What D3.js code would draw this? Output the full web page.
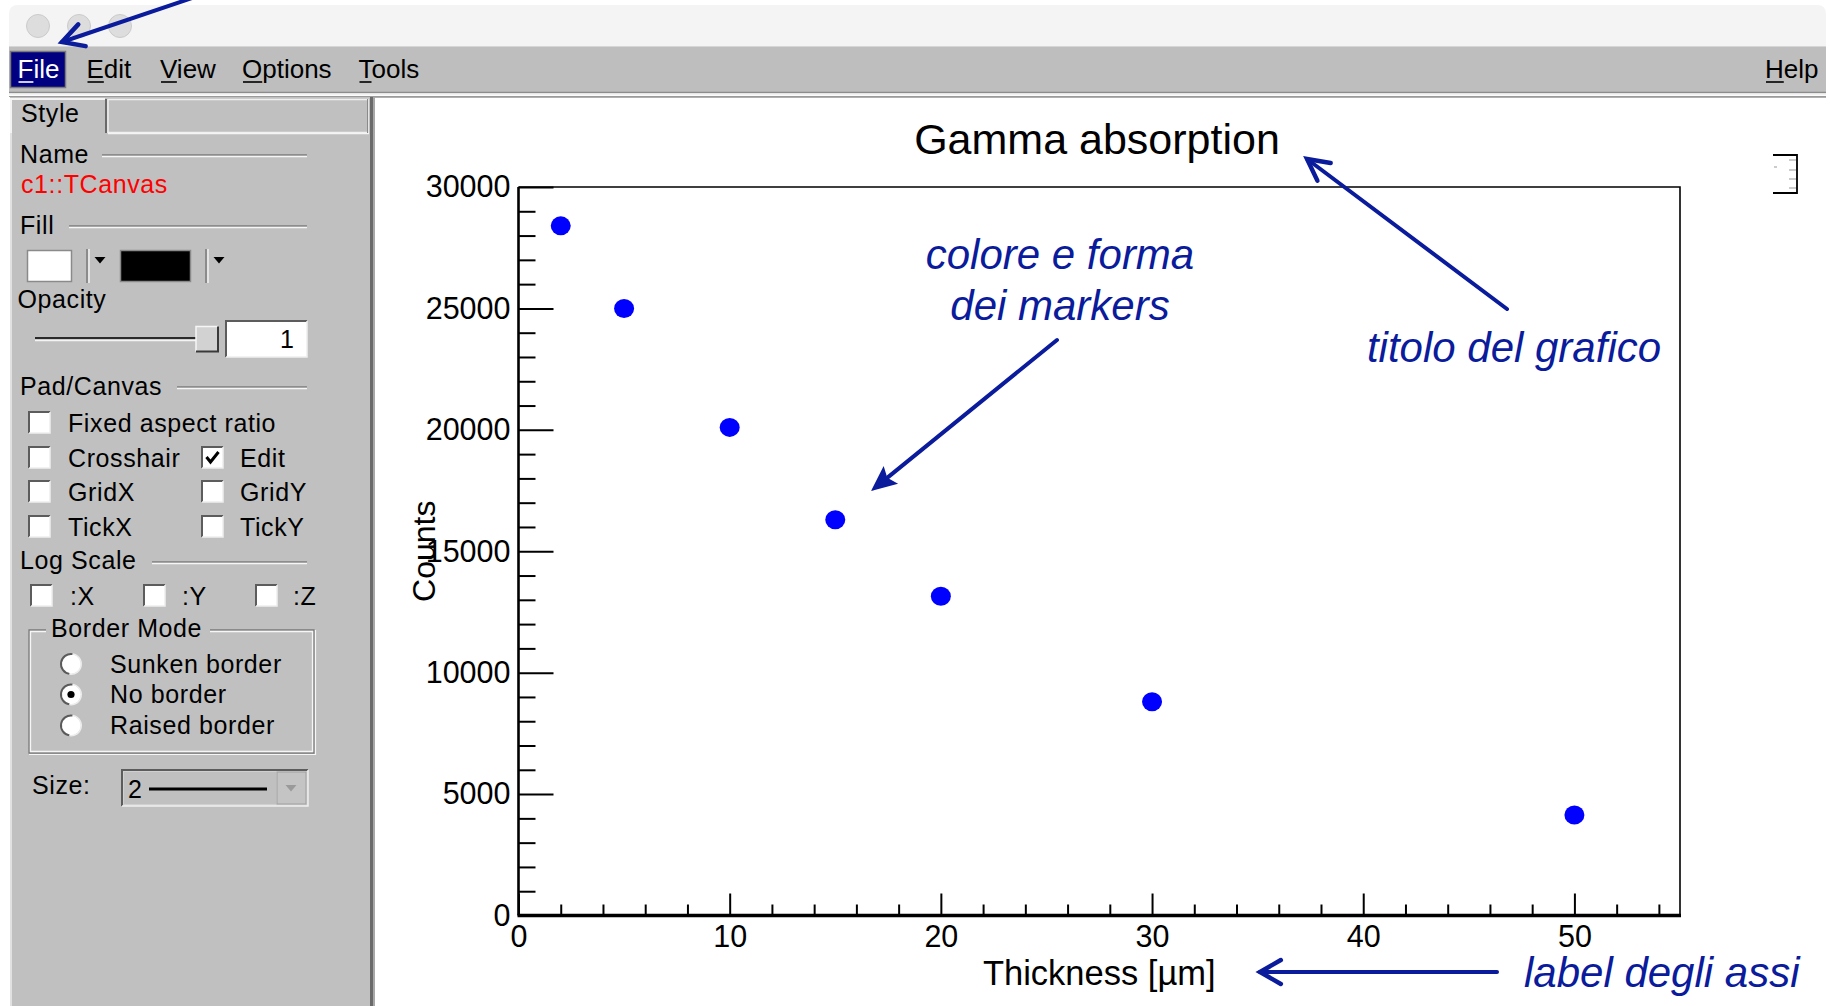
<!DOCTYPE html>
<html>
<head>
<meta charset="utf-8">
<script src="https://cdn.jsdelivr.net/npm/d3@7"></script>
<style>
  html, body { margin: 0; padding: 0; background: #ffffff; overflow: hidden; }
  svg text { font-family: "Liberation Sans", Arial, Helvetica, sans-serif; }
</style>
</head>
<body>
<svg id="win" width="1830" height="1006"></svg>
<script>
// ---- measurements: gamma counts vs absorber thickness ----
const thickness = [2, 5, 10, 15, 20, 30, 50];
const counts = [28400, 25000, 20100, 16300, 13150, 8800, 4140];

// ---- axes ----
const xDomain = [0, 55];
const yDomain = [0, 30000];
const xTickValues = [0, 10, 20, 30, 40, 50];
const yTickValues = [0, 5000, 10000, 15000, 20000, 25000, 30000];
const xMinorStep = 2;
const yMinorStep = 1000;

// ---- texts ----
const chartTitle = "Gamma absorption";
const xTitle = "Thickness [\u00B5m]";
const yTitle = "Counts";
const menuItems = ["File", "Edit", "View", "Options", "Tools"];
const helpItem = "Help";
const checkRows = [["Fixed aspect ratio", null], ["Crosshair", "Edit"], ["GridX", "GridY"], ["TickX", "TickY"]];
const checkedItems = ["Edit"];
const logItems = [":X", ":Y", ":Z"];
const borderModes = ["Sunken border", "No border", "Raised border"];
const selectedBorder = "No border";
const noteMarkers = ["colore e forma", "dei markers"];
const noteTitle = "titolo del grafico";
const noteAxis = "label degli assi";

const svg = d3.select("#win");
const NOTE = "#0a1b9c";

// ================= window chrome =================
svg.append("path")
  .attr("d", "M9,47 V14 Q9,5 18,5 H1817 Q1826,5 1826,14 V47 Z")
  .attr("fill", "#f4f4f4");
svg.append("line").attr("x1", 9).attr("x2", 1826).attr("y1", 46.5).attr("y2", 46.5)
  .attr("stroke", "#d6d6d6").attr("stroke-width", 1);
[38, 79, 120].forEach(cx => {
  svg.append("circle").attr("cx", cx).attr("cy", 26).attr("r", 11.5)
    .attr("fill", "#dddddd").attr("stroke", "#cbcbcb").attr("stroke-width", 1);
});

// menu bar
svg.append("rect").attr("x", 9).attr("y", 47).attr("width", 1817).attr("height", 45)
  .attr("fill", "#bebebe");
svg.append("line").attr("x1", 9).attr("x2", 1826).attr("y1", 92.5).attr("y2", 92.5)
  .attr("stroke", "#8c8c8c").attr("stroke-width", 1.5);
svg.append("line").attr("x1", 9).attr("x2", 1826).attr("y1", 94.5).attr("y2", 94.5)
  .attr("stroke", "#f2f2f2").attr("stroke-width", 1.5);
svg.append("line").attr("x1", 9).attr("x2", 1826).attr("y1", 96.5).attr("y2", 96.5)
  .attr("stroke", "#9a9a9a").attr("stroke-width", 1.2);

const menuX = [17.5, 86.5, 160, 242, 358.5];
svg.append("rect").attr("x", 10.5).attr("y", 51.5).attr("width", 55).attr("height", 36)
  .attr("fill", "#000080").attr("stroke", "#7a7a7a").attr("stroke-width", 1.5);

function menuLabel(label, x, color) {
  const t = svg.append("text").attr("x", x).attr("y", 77.5)
    .attr("font-size", 26).attr("fill", color).text(label);
  const w = t.node().getSubStringLength(0, 1);
  svg.append("line").attr("x1", x + 1).attr("x2", x + w).attr("y1", 82).attr("y2", 82)
    .attr("stroke", color).attr("stroke-width", 1.6);
}
menuItems.forEach((m, i) => menuLabel(m, menuX[i], i === 0 ? "#ffffff" : "#000000"));
menuLabel(helpItem, 1765, "#000000");

// ================= editor side panel =================
const P = "#c0c0c0";
svg.append("rect").attr("x", 10).attr("y", 97).attr("width", 361).attr("height", 909).attr("fill", P);
svg.append("line").attr("x1", 11).attr("x2", 11).attr("y1", 133).attr("y2", 1006)
  .attr("stroke", "#ececec").attr("stroke-width", 1.5);
svg.append("rect").attr("x", 370).attr("y", 97).attr("width", 3).attr("height", 909).attr("fill", "#6a6a6a");
svg.append("rect").attr("x", 373).attr("y", 97).attr("width", 2).attr("height", 909).attr("fill", "#a8a8a8");

// tabs
svg.append("path").attr("d", "M11,133 V99 H105").attr("fill", "none")
  .attr("stroke", "#f4f4f4").attr("stroke-width", 2);
svg.append("line").attr("x1", 106).attr("x2", 106).attr("y1", 99).attr("y2", 133)
  .attr("stroke", "#6a6a6a").attr("stroke-width", 2);
svg.append("rect").attr("x", 108).attr("y", 99.5).attr("width", 260).attr("height", 33)
  .attr("fill", P).attr("stroke", "#f0f0f0").attr("stroke-width", 1.5);
svg.append("line").attr("x1", 108).attr("x2", 369).attr("y1", 133.5).attr("y2", 133.5)
  .attr("stroke", "#f4f4f4").attr("stroke-width", 1.5);
svg.append("line").attr("x1", 367.5).attr("x2", 367.5).attr("y1", 99).attr("y2", 133)
  .attr("stroke", "#8a8a8a").attr("stroke-width", 1);

function ptext(s, x, y, opts = {}) {
  return svg.append("text").attr("x", x).attr("y", y)
    .attr("font-size", opts.size || 25)
    .attr("letter-spacing", opts.ls != null ? opts.ls : 0.6)
    .attr("fill", opts.color || "#000")
    .attr("text-anchor", opts.anchor || "start")
    .text(s);
}
function etched(x1, x2, yy) {
  svg.append("line").attr("x1", x1).attr("x2", x2).attr("y1", yy).attr("y2", yy)
    .attr("stroke", "#7c7c7c").attr("stroke-width", 1.3);
  svg.append("line").attr("x1", x1).attr("x2", x2).attr("y1", yy + 1.5).attr("y2", yy + 1.5)
    .attr("stroke", "#f6f6f6").attr("stroke-width", 1.3);
}
function sunkenBox(x, y0, w, h, fill) {
  svg.append("rect").attr("x", x).attr("y", y0).attr("width", w).attr("height", h).attr("fill", fill);
  svg.append("path").attr("d", `M${x},${y0 + h} V${y0} H${x + w}`).attr("fill", "none")
    .attr("stroke", "#5c5c5c").attr("stroke-width", 2);
  svg.append("path").attr("d", `M${x + w},${y0} V${y0 + h} H${x}`).attr("fill", "none")
    .attr("stroke", "#eeeeee").attr("stroke-width", 1.5);
}
function checkbox(x, y0, checked) {
  sunkenBox(x, y0, 21, 21, "#ffffff");
  if (checked) {
    svg.append("path").attr("d", `M${x + 4.5},${y0 + 10} L${x + 8.5},${y0 + 15} L${x + 16.5},${y0 + 5}`)
      .attr("fill", "none").attr("stroke", "#000").attr("stroke-width", 3);
  }
}
function downArrow(cx, cy, color) {
  svg.append("path").attr("d", `M${cx - 5.5},${cy - 3} H${cx + 5.5} L${cx},${cy + 3.5} Z`).attr("fill", color);
}

ptext("Style", 21, 121.5, { size: 25 });

ptext("Name", 20, 163);
etched(102, 307, 155);
ptext("c1::TCanvas", 21, 193);
svg.selectAll("text").filter(function () { return this.textContent === "c1::TCanvas"; }).attr("fill", "#ff0000");

ptext("Fill", 20, 233.5);
etched(69, 307, 226);
// fill colour pickers
svg.append("rect").attr("x", 27.5).attr("y", 250.5).attr("width", 44).attr("height", 31)
  .attr("fill", "#ffffff").attr("stroke", "#8a8a8a").attr("stroke-width", 1.5);
svg.append("line").attr("x1", 87).attr("x2", 87).attr("y1", 249).attr("y2", 283).attr("stroke", "#7a7a7a").attr("stroke-width", 1.5);
svg.append("line").attr("x1", 89).attr("x2", 89).attr("y1", 249).attr("y2", 283).attr("stroke", "#f2f2f2").attr("stroke-width", 1.5);
downArrow(100, 260, "#000");
svg.append("rect").attr("x", 120.5).attr("y", 250.5).attr("width", 70).attr("height", 31)
  .attr("fill", "#000000").attr("stroke", "#8a8a8a").attr("stroke-width", 1.5);
svg.append("line").attr("x1", 206).attr("x2", 206).attr("y1", 249).attr("y2", 283).attr("stroke", "#7a7a7a").attr("stroke-width", 1.5);
svg.append("line").attr("x1", 208).attr("x2", 208).attr("y1", 249).attr("y2", 283).attr("stroke", "#f2f2f2").attr("stroke-width", 1.5);
downArrow(219, 260, "#000");

ptext("Opacity", 17.5, 308);
// opacity slider
svg.append("line").attr("x1", 35).attr("x2", 200).attr("y1", 338).attr("y2", 338).attr("stroke", "#2a2a2a").attr("stroke-width", 2);
svg.append("line").attr("x1", 35).attr("x2", 200).attr("y1", 340.5).attr("y2", 340.5).attr("stroke", "#f4f4f4").attr("stroke-width", 1.5);
svg.append("rect").attr("x", 196).attr("y", 326.5).attr("width", 22).attr("height", 25).attr("fill", "#d2d2d2");
svg.append("path").attr("d", "M196,351.5 V326.5 H218").attr("fill", "none").attr("stroke", "#f6f6f6").attr("stroke-width", 1.5);
svg.append("path").attr("d", "M218,326.5 V351.5 H196").attr("fill", "none").attr("stroke", "#3a3a3a").attr("stroke-width", 2);
sunkenBox(226, 321, 81, 36, "#ffffff");
ptext("1", 294, 348, { anchor: "end", ls: 0 });

ptext("Pad/Canvas", 20, 395);
etched(177, 307, 387);

const rowTop = [412, 447, 481, 516];
checkRows.forEach((r, i) => {
  checkbox(29, rowTop[i], checkedItems.includes(r[0]));
  ptext(r[0], 68, rowTop[i] + 20);
  if (r[1]) {
    checkbox(202, rowTop[i], checkedItems.includes(r[1]));
    ptext(r[1], 240, rowTop[i] + 20);
  }
});

ptext("Log Scale", 20, 569);
etched(152, 307, 562);
const logBoxX = [31, 144, 256];
const logTextX = [70, 182, 293];
logItems.forEach((s, i) => {
  checkbox(logBoxX[i], 585, false);
  ptext(s, logTextX[i], 605);
});

// border mode group
svg.append("path").attr("d", "M46,630 H29 V753 H314 V630 H210").attr("fill", "none")
  .attr("stroke", "#7a7a7a").attr("stroke-width", 1.3);
svg.append("path").attr("d", "M46,631.5 H30.5 V751.5 H312.5 V631.5 H210").attr("fill", "none")
  .attr("stroke", "#f6f6f6").attr("stroke-width", 1.3);
svg.append("path").attr("d", "M29,754.5 H315.5 V630").attr("fill", "none")
  .attr("stroke", "#f6f6f6").attr("stroke-width", 1.2);
ptext("Border Mode", 51, 636.5);
const radioY = [664, 694.5, 725.5];
borderModes.forEach((s, i) => {
  const cy = radioY[i];
  svg.append("circle").attr("cx", 71).attr("cy", cy).attr("r", 10).attr("fill", "#ffffff");
  svg.append("path").attr("d", d3.arc()({ innerRadius: 9, outerRadius: 11, startAngle: -Math.PI * 0.95, endAngle: Math.PI * 0.05 }))
    .attr("transform", `translate(71,${cy})`).attr("fill", "#5a5a5a");
  svg.append("path").attr("d", d3.arc()({ innerRadius: 9.5, outerRadius: 11, startAngle: Math.PI * 0.05, endAngle: Math.PI * 1.05 }))
    .attr("transform", `translate(71,${cy})`).attr("fill", "#ececec");
  if (s === selectedBorder) {
    svg.append("circle").attr("cx", 71).attr("cy", cy).attr("r", 3.6).attr("fill", "#000");
  }
  ptext(s, 110, cy + 8.5);
});

ptext("Size:", 32, 794);
sunkenBox(122, 770, 186, 36, "#d0d0d0");
svg.append("rect").attr("x", 124).attr("y", 772).attr("width", 152).attr("height", 32).attr("fill", P);
ptext("2", 128, 798, { ls: 0 });
svg.append("line").attr("x1", 149).attr("x2", 267).attr("y1", 789).attr("y2", 789).attr("stroke", "#000").attr("stroke-width", 3);
svg.append("rect").attr("x", 277).attr("y", 772).attr("width", 29).attr("height", 32).attr("fill", "#c4c4c4")
  .attr("stroke", "#a0a0a0").attr("stroke-width", 1);
downArrow(291, 788, "#9a9a9a");

// ================= canvas =================
svg.append("rect").attr("x", 375).attr("y", 97).attr("width", 1451).attr("height", 909).attr("fill", "#ffffff");
svg.append("line").attr("x1", 375).attr("x2", 1826).attr("y1", 97.5).attr("y2", 97.5).attr("stroke", "#b0b0b0").attr("stroke-width", 1);

const x = d3.scaleLinear().domain(xDomain).range([518.5, 1680]);
const y = d3.scaleLinear().domain(yDomain).range([915.5, 187]);

// frame (top and right)
svg.append("path")
  .attr("d", `M${x(xDomain[0])},${y(yDomain[1])} H${x(xDomain[1])} V${y(yDomain[0])}`)
  .attr("fill", "none").attr("stroke", "#000").attr("stroke-width", 1.6);

function styleAxis(g, fs) {
  g.select(".domain").remove();
  g.attr("font-family", null).attr("font-size", null);
  g.selectAll("line").attr("stroke", "#000").attr("stroke-width", 2);
  g.selectAll("text").attr("font-size", fs).attr("fill", "#000");
}

const xMinor = d3.range(xDomain[0], xDomain[1] + 0.001, xMinorStep).filter(v => !xTickValues.includes(v));
const yMinor = d3.range(yDomain[0], yDomain[1] + 0.001, yMinorStep).filter(v => !yTickValues.includes(v));

svg.append("g").attr("transform", `translate(0,${y(0)})`)
  .call(d3.axisBottom(x).tickValues(xMinor).tickSize(-11).tickFormat(""))
  .call(g => styleAxis(g, 30.5));
svg.append("g").attr("transform", `translate(0,${y(0)})`)
  .call(d3.axisBottom(x).tickValues(xTickValues).tickSize(-22).tickPadding(10).tickFormat(d3.format("d")))
  .call(g => styleAxis(g, 30.5));

svg.append("g").attr("transform", `translate(${x(0)},0)`)
  .call(d3.axisLeft(y).tickValues(yMinor).tickSize(-17).tickFormat(""))
  .call(g => styleAxis(g, 30.5));
svg.append("g").attr("transform", `translate(${x(0)},0)`)
  .call(d3.axisLeft(y).tickValues(yTickValues).tickSize(-35).tickPadding(8).tickFormat(d3.format("d")))
  .call(g => styleAxis(g, 30.5));

// axis lines
svg.append("line").attr("x1", x(xDomain[0]) - 1).attr("x2", x(xDomain[1]) + 1)
  .attr("y1", y(0)).attr("y2", y(0)).attr("stroke", "#000").attr("stroke-width", 3.4);
svg.append("line").attr("x1", x(0)).attr("x2", x(0))
  .attr("y1", y(yDomain[1])).attr("y2", y(0)).attr("stroke", "#000").attr("stroke-width", 2.6);

// titles
svg.append("text").attr("x", 1097).attr("y", 154).attr("text-anchor", "middle")
  .attr("font-size", 43).attr("fill", "#000").text(chartTitle);
svg.append("text").attr("x", (x(xDomain[0]) + x(xDomain[1])) / 2).attr("y", 985).attr("text-anchor", "middle")
  .attr("font-size", 34.5).attr("fill", "#000").text(xTitle);
svg.append("text").attr("transform", `translate(435,${(y(yDomain[0]) + y(yDomain[1])) / 2}) rotate(-90)`)
  .attr("text-anchor", "middle").attr("font-size", 32).attr("fill", "#000").text(yTitle);

// data markers
svg.append("g").selectAll("ellipse").data(thickness).join("ellipse")
  .attr("cx", d => x(d))
  .attr("cy", (d, i) => y(counts[i]))
  .attr("rx", 10).attr("ry", 9.5)
  .attr("fill", "#0000ff");

// small palette widget in the pad corner
svg.append("path").attr("d", "M1773,155 H1797 V193 H1773").attr("fill", "none")
  .attr("stroke", "#000").attr("stroke-width", 1.8);
[160, 170, 179, 188].forEach(yy => {
  svg.append("line").attr("x1", 1789).attr("x2", 1796).attr("y1", yy).attr("y2", yy)
    .attr("stroke", "#999").attr("stroke-width", 1);
});
svg.append("line").attr("x1", 1774).attr("x2", 1777).attr("y1", 167).attr("y2", 167)
  .attr("stroke", "#999").attr("stroke-width", 1);

// ================= annotations =================
function chevronArrow(x1, y1, x2, y2, len, half) {
  svg.append("line").attr("x1", x1).attr("y1", y1).attr("x2", x2).attr("y2", y2)
    .attr("stroke", NOTE).attr("stroke-width", 4).attr("stroke-linecap", "round");
  const a = Math.atan2(y1 - y2, x1 - x2);
  const p1 = [x2 + len * Math.cos(a + half), y2 + len * Math.sin(a + half)];
  const p2 = [x2 + len * Math.cos(a - half), y2 + len * Math.sin(a - half)];
  svg.append("path").attr("d", `M${p1[0]},${p1[1]} L${x2},${y2} L${p2[0]},${p2[1]}`)
    .attr("fill", "none").attr("stroke", NOTE).attr("stroke-width", 4.5)
    .attr("stroke-linecap", "round").attr("stroke-linejoin", "miter");
}
function solidArrow(x1, y1, x2, y2, len, half) {
  const a = Math.atan2(y1 - y2, x1 - x2);
  svg.append("line").attr("x1", x1).attr("y1", y1)
    .attr("x2", x2 + (len * 0.8) * Math.cos(a)).attr("y2", y2 + (len * 0.8) * Math.sin(a))
    .attr("stroke", NOTE).attr("stroke-width", 4).attr("stroke-linecap", "round");
  const p1 = [x2 + len * Math.cos(a + half), y2 + len * Math.sin(a + half)];
  const p2 = [x2 + len * Math.cos(a - half), y2 + len * Math.sin(a - half)];
  const pm = [x2 + len * 0.75 * Math.cos(a), y2 + len * 0.75 * Math.sin(a)];
  svg.append("path").attr("d", `M${x2},${y2} L${p1[0]},${p1[1]} L${pm[0]},${pm[1]} L${p2[0]},${p2[1]} Z`)
    .attr("fill", NOTE);
}

svg.append("text").attr("x", 1060).attr("y", 269).attr("text-anchor", "middle")
  .attr("font-size", 42).attr("font-style", "italic").attr("fill", NOTE).text(noteMarkers[0]);
svg.append("text").attr("x", 1060).attr("y", 320).attr("text-anchor", "middle")
  .attr("font-size", 42).attr("font-style", "italic").attr("fill", NOTE).text(noteMarkers[1]);
solidArrow(1057, 340, 871, 491, 28, 0.42);

svg.append("text").attr("x", 1514).attr("y", 362).attr("text-anchor", "middle")
  .attr("font-size", 42).attr("font-style", "italic").attr("fill", NOTE).text(noteTitle);
chevronArrow(1507, 309, 1307, 159, 24, 0.48);

svg.append("text").attr("x", 1524).attr("y", 987)
  .attr("font-size", 42).attr("font-style", "italic").attr("fill", NOTE).text(noteAxis);
chevronArrow(1497, 972, 1260, 972, 24, 0.52);

chevronArrow(195, -3, 62, 42, 24, 0.5);
</script>
</body>
</html>
